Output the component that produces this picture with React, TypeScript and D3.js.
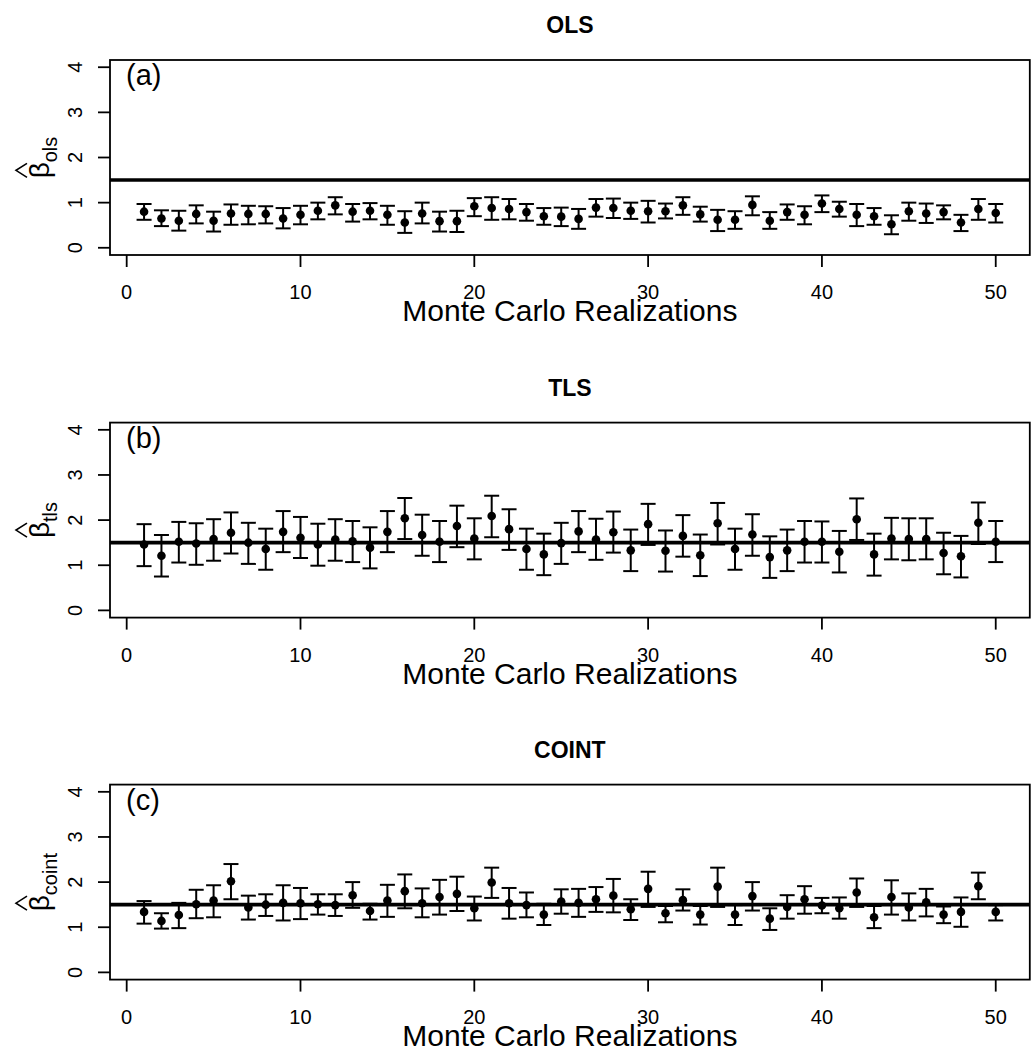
import React from "react";
import * as d3 from "d3";

const realizations = d3.range(1, 51);
const xTicks = [0, 10, 20, 30, 40, 50];
const yTicks = [0, 1, 2, 3, 4];
const trueBeta = 1.5;

const olsEst = [0.80,0.65,0.60,0.75,0.60,0.76,0.75,0.75,0.65,0.73,0.82,0.94,0.80,0.82,0.73,0.56,0.76,0.59,0.59,0.92,0.88,0.86,0.79,0.70,0.69,0.64,0.89,0.88,0.82,0.81,0.81,0.94,0.74,0.62,0.62,0.95,0.60,0.79,0.73,0.98,0.86,0.73,0.70,0.52,0.81,0.76,0.79,0.56,0.86,0.77];
const olsLo = [0.62,0.48,0.38,0.54,0.36,0.51,0.52,0.54,0.43,0.52,0.63,0.74,0.58,0.63,0.51,0.33,0.54,0.36,0.35,0.70,0.62,0.63,0.60,0.51,0.48,0.42,0.69,0.66,0.64,0.56,0.65,0.73,0.58,0.37,0.42,0.72,0.42,0.62,0.52,0.79,0.69,0.48,0.51,0.30,0.60,0.55,0.63,0.37,0.62,0.56];
const olsHi = [0.97,0.83,0.82,0.94,0.80,0.96,0.93,0.92,0.88,0.93,1.00,1.12,0.97,0.99,0.93,0.81,1.00,0.80,0.82,1.10,1.12,1.08,0.97,0.88,0.89,0.86,1.08,1.09,1.00,1.04,0.98,1.12,0.91,0.84,0.81,1.14,0.79,0.96,0.92,1.16,1.02,0.97,0.88,0.72,1.00,0.98,0.94,0.73,1.08,0.97];

const tlsEst = [1.46,1.21,1.52,1.48,1.58,1.72,1.50,1.36,1.74,1.61,1.46,1.57,1.53,1.39,1.74,2.04,1.67,1.52,1.87,1.59,2.09,1.80,1.36,1.24,1.49,1.75,1.57,1.73,1.33,1.91,1.32,1.65,1.22,1.93,1.36,1.68,1.18,1.33,1.52,1.52,1.30,2.02,1.24,1.59,1.58,1.58,1.27,1.20,1.94,1.52];
const tlsLo = [0.98,0.75,1.06,1.01,1.10,1.26,1.03,0.90,1.29,1.16,0.99,1.10,1.07,0.93,1.29,1.58,1.21,1.07,1.40,1.13,1.62,1.34,0.90,0.78,1.03,1.29,1.12,1.28,0.87,1.45,0.86,1.19,0.76,1.46,0.90,1.21,0.72,0.87,1.06,1.06,0.84,1.56,0.77,1.13,1.11,1.13,0.80,0.73,1.47,1.07];
const tlsHi = [1.91,1.67,1.96,1.93,2.02,2.17,1.94,1.81,2.20,2.07,1.92,2.02,1.98,1.84,2.20,2.49,2.12,1.98,2.32,2.04,2.54,2.24,1.81,1.70,1.94,2.20,2.03,2.19,1.79,2.36,1.77,2.11,1.68,2.38,1.81,2.13,1.64,1.79,1.98,1.97,1.76,2.48,1.70,2.05,2.04,2.04,1.72,1.65,2.39,1.98];

const cointEst = [1.34,1.14,1.27,1.51,1.59,2.02,1.44,1.50,1.54,1.53,1.51,1.49,1.71,1.36,1.59,1.80,1.53,1.67,1.74,1.42,1.99,1.53,1.49,1.28,1.57,1.54,1.62,1.70,1.40,1.85,1.31,1.60,1.28,1.90,1.28,1.69,1.19,1.45,1.62,1.48,1.42,1.77,1.22,1.67,1.44,1.55,1.28,1.34,1.91,1.34];
const cointLo = [1.08,0.97,0.98,1.20,1.22,1.62,1.17,1.25,1.15,1.18,1.28,1.25,1.43,1.17,1.23,1.42,1.22,1.28,1.36,1.15,1.65,1.19,1.22,1.05,1.30,1.23,1.34,1.33,1.16,1.45,1.11,1.37,1.06,1.45,1.05,1.37,0.94,1.19,1.30,1.31,1.19,1.45,0.98,1.28,1.15,1.24,1.09,1.01,1.62,1.15];
const cointHi = [1.58,1.31,1.54,1.83,1.93,2.40,1.70,1.73,1.93,1.87,1.73,1.73,2.00,1.52,1.94,2.17,1.86,2.05,2.12,1.68,2.32,1.87,1.77,1.52,1.84,1.85,1.89,2.07,1.62,2.23,1.47,1.84,1.47,2.32,1.49,2.00,1.42,1.71,1.91,1.65,1.66,2.08,1.47,2.04,1.75,1.85,1.46,1.66,2.21,1.49];

const panels = [
  { title: "OLS", tag: "(a)", sub: "ols", subW: 25.6, est: olsEst, lo: olsLo, hi: olsHi },
  { title: "TLS", tag: "(b)", sub: "tls", subW: 20, est: tlsEst, lo: tlsLo, hi: tlsHi },
  { title: "COINT", tag: "(c)", sub: "coint", subW: 42.2, est: cointEst, lo: cointLo, hi: cointHi },
];

const W = 1033;
const H = 1050;
const left = 110;
const right = 1029.8;
const tops = [60, 422.6, 784.6];
const ph = 195;
const font = "'Liberation Sans', Arial, Helvetica, sans-serif";

const x = d3.scaleLinear().domain([-0.96, 51.96]).range([left, right]);

function Panel({ p, top }: { p: any; top: number }) {
  const bottom = top + ph;
  const y = d3.scaleLinear().domain([-0.16, 4.16]).range([bottom, top]);
  const cy = (top + bottom) / 2;
  const betaW = 16;
  const totalW = betaW + p.subW;
  const start = -totalW / 2;
  const hc = start + betaW / 2;
  return (
    <g>
      <text x={(left + right) / 2} y={top - 27} textAnchor="middle" fontFamily={font} fontWeight="bold" fontSize={23}>{p.title}</text>
      <rect x={left} y={top} width={right - left} height={ph} fill="none" stroke="#000" strokeWidth={1.8} />
      {yTicks.map((t) => (
        <g key={"y" + t}>
          <line x1={left - 12} x2={left} y1={y(t)} y2={y(t)} stroke="#000" strokeWidth={1.8} />
          <text transform={`translate(${82},${y(t)}) rotate(-90)`} textAnchor="middle" fontFamily={font} fontSize={20}>{t}</text>
        </g>
      ))}
      {xTicks.map((t) => (
        <g key={"x" + t}>
          <line x1={x(t)} x2={x(t)} y1={bottom} y2={bottom + 12} stroke="#000" strokeWidth={1.8} />
          <text x={x(t)} y={bottom + 44} textAnchor="middle" fontFamily={font} fontSize={20}>{t}</text>
        </g>
      ))}
      <text x={(left + right) / 2} y={bottom + 66} textAnchor="middle" fontFamily={font} fontSize={30}>Monte Carlo Realizations</text>
      <g transform={`translate(49,${cy}) rotate(-90)`}>
        <text x={start} y={0} fontFamily={font} fontSize={28}>β</text>
        <text x={start + betaW} y={8} fontFamily={font} fontSize={20}>{p.sub}</text>
        <path d={`M${hc - 7},-22 L${hc},-33 L${hc + 7},-22`} fill="none" stroke="#000" strokeWidth={1.6} />
      </g>
      <text x={126} y={top + 25} fontFamily={font} fontSize={29}>{p.tag}</text>
      <line x1={left} x2={right} y1={y(trueBeta)} y2={y(trueBeta)} stroke="#000" strokeWidth={3.6} />
      {realizations.map((r, i) => (
        <g key={r}>
          <line x1={x(r)} x2={x(r)} y1={y(p.lo[i])} y2={y(p.hi[i])} stroke="#000" strokeWidth={2} />
          <line x1={x(r) - 7.5} x2={x(r) + 7.5} y1={y(p.lo[i])} y2={y(p.lo[i])} stroke="#000" strokeWidth={2} />
          <line x1={x(r) - 7.5} x2={x(r) + 7.5} y1={y(p.hi[i])} y2={y(p.hi[i])} stroke="#000" strokeWidth={2} />
          <circle cx={x(r)} cy={y(p.est[i])} r={4.3} fill="#000" />
        </g>
      ))}
    </g>
  );
}

export default function App() {
  return (
    <svg width={W} height={H} style={{ position: "absolute", left: 0, top: 0, background: "#fff" }}>
      <rect x={0} y={0} width={W} height={H} fill="#fff" />
      {panels.map((p, i) => (
        <Panel key={p.title} p={p} top={tops[i]} />
      ))}
    </svg>
  );
}
